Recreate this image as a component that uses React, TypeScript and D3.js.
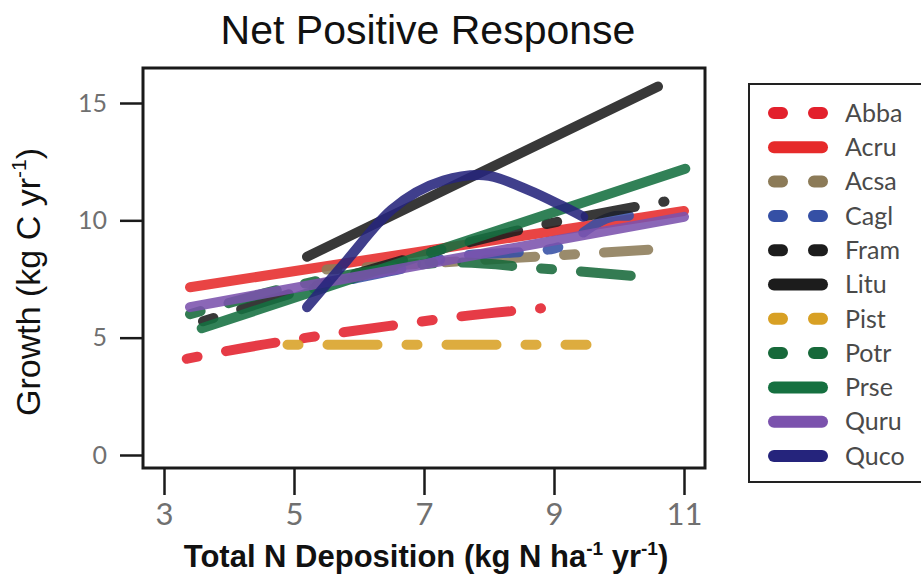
import React, { useEffect, useRef } from 'react';
import * as d3 from 'd3';

// species, in legend order
const species = ['Abba', 'Acru', 'Acsa', 'Cagl', 'Fram', 'Litu', 'Pist', 'Potr', 'Prse', 'Quru', 'Quco'];
const colors = ['#e3202c', '#e62a2a', '#8c7b58', '#3550a5', '#1c1c1c', '#1c1c1c', '#d8a024', '#17693a', '#157040', '#7b52ad', '#25247c'];
const dashed = [true, false, true, true, true, false, true, true, false, false, false];

// values (N deposition, growth)
const abbaX = [3.35, 4.0, 5.2, 6.6, 7.55, 8.8];
const abbaY = [4.1, 4.45, 5.0, 5.55, 5.9, 6.25];
const acruX = [3.4, 11.0];
const acruY = [7.15, 10.4];
const acsaX = [5.5, 10.45];
const acsaY = [7.9, 8.75];
const caglX = [5.3, 5.9, 6.6, 7.6, 8.5, 9.0, 10.0, 10.5];
const caglY = [7.1, 7.5, 7.9, 8.5, 8.65, 8.8, 10.2, 10.2];
const framX = [3.6, 8.9, 10.7];
const framY = [5.7, 9.85, 10.8];
const lituX = [5.2, 10.6];
const lituY = [8.45, 15.7];
const pistX = [4.9, 9.5];
const pistY = [4.7, 4.7];
const potrX = [3.4, 5.6, 7.5, 8.8, 10.55];
const potrY = [6.0, 7.55, 8.2, 7.95, 7.55];
const prseX = [3.58, 11.02];
const prseY = [5.4, 12.2];
const quruX = [3.4, 11.0];
const quruY = [6.3, 10.15];
const qucoX = [5.2, 5.8, 6.5, 7.3, 7.85, 8.6, 9.1, 9.45];
const qucoY = [6.3, 8.25, 10.45, 11.7, 11.93, 11.3, 10.65, 10.15];

const seriesX = [abbaX, acruX, acsaX, caglX, framX, lituX, pistX, potrX, prseX, quruX, qucoX];
const seriesY = [abbaY, acruY, acsaY, caglY, framY, lituY, pistY, potrY, prseY, quruY, qucoY];

const xTicks = [3, 5, 7, 9, 11];
const yTicks = [0, 5, 10, 15];

const App: React.FC = () => {
  const svgRef = useRef<SVGSVGElement>(null);

  useEffect(() => {
    if (!svgRef.current) return;
    const W = 921, H = 575;
    const frame = { left: 143, right: 705, top: 68, bottom: 468 };

    const svg = d3.select(svgRef.current).attr('width', W).attr('height', H);
    svg.selectAll('*').remove();

    const x = d3.scaleLinear().domain([3, 11]).range([164, 684]);
    const y = d3.scaleLinear().domain([0, 15]).range([455, 103]);

    svg.append('rect').attr('width', W).attr('height', H).attr('fill', '#fff');

    // title
    svg.append('text')
      .attr('x', 428).attr('y', 44)
      .attr('text-anchor', 'middle')
      .attr('font-family', '"Liberation Sans", Arial, sans-serif')
      .attr('font-size', 41)
      .attr('fill', '#111')
      .text('Net Positive Response');

    svg.append('clipPath').attr('id', 'plotclip')
      .append('rect')
      .attr('x', frame.left).attr('y', frame.top)
      .attr('width', frame.right - frame.left).attr('height', frame.bottom - frame.top);

    const line = d3.line<[number, number]>()
      .x(d => x(d[0]))
      .y(d => y(d[1]))
      .curve(d3.curveMonotoneX);

    const plot = svg.append('g').attr('clip-path', 'url(#plotclip)');
    species.forEach((s, i) => {
      const pts = seriesX[i].map((v, j) => [v, seriesY[i][j]] as [number, number]);
      plot.append('path')
        .attr('d', line(pts))
        .attr('fill', 'none')
        .attr('stroke', colors[i])
        .attr('stroke-width', 10)
        .attr('stroke-linecap', 'round')
        .attr('stroke-opacity', 0.88)
        .attr('stroke-dasharray', dashed[i] ? '11 29 50 29' : null);
    });

    // axes
    const yAxis = d3.axisLeft(y).tickValues(yTicks).tickSize(23).tickPadding(13);
    const yG = svg.append('g').attr('transform', `translate(${frame.left},0)`).call(yAxis);
    yG.select('.domain').remove();
    yG.selectAll('line').attr('stroke', '#1a1a1a').attr('stroke-width', 2.5);
    yG.selectAll('text')
      .attr('font-family', 'Lato, "Open Sans", sans-serif')
      .attr('font-size', 25)
      .attr('fill', '#707070');

    const xAxis = d3.axisBottom(x).tickValues(xTicks).tickSize(27).tickPadding(8);
    const xG = svg.append('g').attr('transform', `translate(0,${frame.bottom})`).call(xAxis);
    xG.select('.domain').remove();
    xG.selectAll('line').attr('stroke', '#1a1a1a').attr('stroke-width', 2.5);
    xG.selectAll('text')
      .attr('font-family', 'Lato, "Open Sans", sans-serif')
      .attr('font-size', 31)
      .attr('fill', '#707070');

    svg.append('rect')
      .attr('x', frame.left).attr('y', frame.top)
      .attr('width', frame.right - frame.left).attr('height', frame.bottom - frame.top)
      .attr('fill', 'none')
      .attr('stroke', '#1a1a1a')
      .attr('stroke-width', 3);

    // y title
    const yt = svg.append('text')
      .attr('transform', 'translate(40,282) rotate(-90)')
      .attr('text-anchor', 'middle')
      .attr('font-family', '"Liberation Sans", Arial, sans-serif')
      .attr('font-size', 34)
      .attr('fill', '#111');
    yt.append('tspan').text('Growth (kg C yr');
    yt.append('tspan').attr('dy', -14).attr('font-size', 21).text('-1');
    yt.append('tspan').attr('dy', 14).text(')');

    // x title
    const xt = svg.append('text')
      .attr('x', 426).attr('y', 567)
      .attr('text-anchor', 'middle')
      .attr('font-family', '"Liberation Sans", Arial, sans-serif')
      .attr('font-size', 31)
      .attr('font-weight', 'bold')
      .attr('fill', '#111');
    xt.append('tspan').text('Total N Deposition (kg N ha');
    xt.append('tspan').attr('dy', -12).attr('font-size', 19).text('-1');
    xt.append('tspan').attr('dy', 12).text(' yr');
    xt.append('tspan').attr('dy', -12).attr('font-size', 19).text('-1');
    xt.append('tspan').attr('dy', 12).text(')');

    // legend
    svg.append('rect')
      .attr('x', 749).attr('y', 84)
      .attr('width', 200).attr('height', 398)
      .attr('fill', '#fff')
      .attr('stroke', '#222')
      .attr('stroke-width', 2);

    const ly = d3.scalePoint<string>().domain(species).range([113, 456]);
    const leg = svg.append('g').selectAll('g').data(species).enter().append('g')
      .attr('transform', d => `translate(0,${ly(d)})`);

    leg.append('line')
      .attr('x1', 774)
      .attr('x2', 822)
      .attr('stroke', (d, i) => colors[i])
      .attr('stroke-width', 12)
      .attr('stroke-linecap', 'round')
      .attr('stroke-dasharray', (d, i) => dashed[i] ? '8 32' : null);

    leg.append('text')
      .attr('x', 845)
      .attr('dy', '0.35em')
      .attr('font-family', 'Lato, "Open Sans", sans-serif')
      .attr('font-size', 25)
      .attr('fill', '#4a4a4a')
      .text(d => d);
  }, []);

  return (
    <div style={{ position: 'absolute', left: 0, top: 0 }}>
      <svg ref={svgRef} style={{ display: 'block' }} />
    </div>
  );
};

export default App;
